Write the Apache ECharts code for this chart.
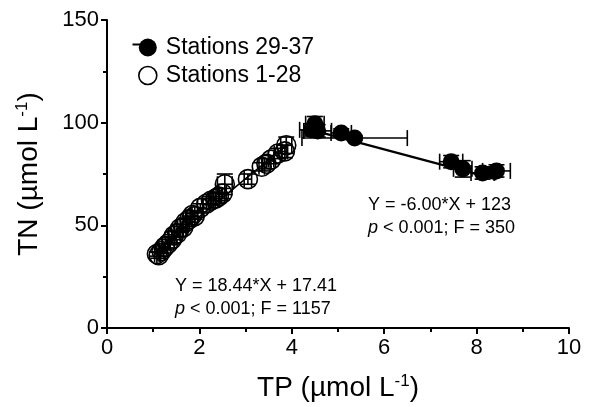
<!DOCTYPE html>
<html>
<head>
<meta charset="utf-8">
<script src="https://cdn.jsdelivr.net/npm/echarts@6/dist/echarts.min.js"></script>
<style>
html, body { margin: 0; padding: 0; background: #fff; }
#main { width: 593px; height: 407px; }
</style>
</head>
<body>
<div id="main"></div>
<script>
// Stations 1-28 (open circles)
var openX = [1.08, 1.12, 1.18, 1.25, 1.32, 1.40, 1.45, 1.52, 1.58, 1.65, 1.70, 1.78, 1.85, 1.90,
             2.02, 2.15, 2.25, 2.35, 2.42, 2.50, 2.55, 3.05, 3.35, 3.45, 3.55, 3.70, 3.85, 3.88];
var openY = [36.0, 35.5, 37.5, 39.5, 41.0, 43.0, 45.0, 46.0, 48.5, 49.0, 51.5, 53.0, 55.0, 54.5,
             58.5, 60.5, 62.0, 63.0, 64.0, 65.5, 70.0, 72.5, 78.5, 80.0, 82.0, 85.0, 86.0, 89.0];
var openXErr = [0.05, 0.04, 0.05, 0.06, 0.05, 0.06, 0.05, 0.06, 0.05, 0.06, 0.05, 0.06, 0.05, 0.06,
                0.06, 0.08, 0.06, 0.08, 0.06, 0.08, 0.16, 0.08, 0.06, 0.08, 0.06, 0.08, 0.06, 0.12];
var openYErr = [1.0, 1.5, 1.0, 1.5, 2.0, 1.5, 2.0, 1.5, 2.0, 1.5, 2.0, 1.5, 2.0, 1.5,
                2.0, 2.5, 2.0, 2.5, 2.0, 2.5, 5.0, 2.5, 2.0, 2.5, 2.0, 2.5, 3.0, 4.0];

// Stations 29-37 (filled circles)
var fillX = [4.42, 4.50, 4.56, 5.07, 5.36, 7.45, 7.70, 8.13, 8.43];
var fillY = [96.5, 99.5, 96.0, 95.0, 92.5, 81.0, 77.5, 75.5, 76.5];
var fillXErr = [0.25, 0.20, 0.30, 0.22, 1.14, 0.25, 0.20, 0.25, 0.30];
var fillYErr = [3.0, 3.5, 3.0, 2.0, 1.0, 3.0, 4.0, 3.0, 3.0];

// regression lines (end points)
var fitOpenX = [1.08, 3.90];
var fitOpenY = [37.3, 89.3];
var fitFillX = [4.42, 8.43];
var fitFillY = [96.5, 72.4];

var xTicks = [0, 2, 4, 6, 8, 10];
var yTicks = [0, 50, 100, 150];

var FONT = 'Liberation Sans, Arial, sans-serif';

function pairs(xs, ys) {
    var out = [];
    for (var i = 0; i < xs.length; i++) out.push([xs[i], ys[i]]);
    return out;
}
function errRows(xs, ys, xe, ye) {
    var out = [];
    for (var i = 0; i < xs.length; i++) out.push([xs[i], ys[i], xe[i], ye[i]]);
    return out;
}

// error bars with caps
function renderErr(params, api) {
    var x = api.value(0), y = api.value(1), xe = api.value(2), ye = api.value(3);
    var l = api.coord([x - xe, y]);
    var r = api.coord([x + xe, y]);
    var t = api.coord([x, y + ye]);
    var b = api.coord([x, y - ye]);
    var cap = 8;
    var st = { stroke: '#000', lineWidth: 1.6 };
    return {
        type: 'group',
        children: [
            { type: 'line', shape: { x1: l[0], y1: l[1], x2: r[0], y2: r[1] }, style: st },
            { type: 'line', shape: { x1: l[0], y1: l[1] - cap, x2: l[0], y2: l[1] + cap }, style: st },
            { type: 'line', shape: { x1: r[0], y1: r[1] - cap, x2: r[0], y2: r[1] + cap }, style: st },
            { type: 'line', shape: { x1: t[0], y1: t[1], x2: b[0], y2: b[1] }, style: st },
            { type: 'line', shape: { x1: t[0] - cap, y1: t[1], x2: t[0] + cap, y2: t[1] }, style: st },
            { type: 'line', shape: { x1: b[0] - cap, y1: b[1], x2: b[0] + cap, y2: b[1] }, style: st }
        ]
    };
}

var myChart = echarts.init(document.getElementById('main'));

var axisCommon = {
    axisLine: { show: true, lineStyle: { color: '#000', width: 2 } },
    axisTick: { show: true, length: 6, lineStyle: { color: '#000', width: 2 } },
    minorTick: { show: true, splitNumber: 2, length: 4, lineStyle: { color: '#000', width: 2 } },
    splitLine: { show: false }
};
var nameRich = {
    a: { fontSize: 28, fontFamily: FONT, color: '#000' },
    s: { fontSize: 17, fontFamily: FONT, color: '#000', padding: [0, 0, 13, 0] }
};

var option = {
    animation: false,
    backgroundColor: '#fff',
    grid: { left: 107, right: 24, top: 20, bottom: 79 },
    legend: {
        orient: 'vertical',
        left: 133,
        top: 31,
        itemWidth: 18,
        itemHeight: 18,
        itemGap: 5,
        textStyle: { color: '#000', fontSize: 23, fontFamily: FONT, padding: [0, 0, 0, 4] },
        data: [
            { name: 'Stations 29-37', icon: 'circle', itemStyle: { color: '#000', borderWidth: 0 } },
            { name: 'Stations 1-28', icon: 'circle', itemStyle: { color: '#fff', borderColor: '#000', borderWidth: 1.6 } }
        ]
    },
    xAxis: Object.assign({}, axisCommon, {
        type: 'value', min: xTicks[0], max: xTicks[xTicks.length - 1], interval: 2,
        name: '{a|TP (µmol L}{s|-1}{a|)}',
        nameLocation: 'middle',
        nameGap: 45,
        nameTextStyle: { rich: nameRich },
        axisLabel: { color: '#000', fontSize: 22, fontFamily: FONT, margin: 9 }
    }),
    yAxis: Object.assign({}, axisCommon, {
        type: 'value', min: yTicks[0], max: yTicks[yTicks.length - 1], interval: 50,
        name: '{a|TN (µmol L}{s|-1}{a|)}',
        nameLocation: 'middle',
        nameGap: 63,
        nameTextStyle: { rich: nameRich },
        axisLabel: { color: '#000', fontSize: 22, fontFamily: FONT, margin: 8 }
    }),
    series: [
        {
            name: 'fitOpen', type: 'line', data: pairs(fitOpenX, fitOpenY),
            symbol: 'none', lineStyle: { color: '#000', width: 1.6 }, z: 1
        },
        {
            name: 'fitFill', type: 'line', data: pairs(fitFillX, fitFillY),
            symbol: 'none', lineStyle: { color: '#000', width: 2.2 }, z: 1
        },
        {
            name: 'errOpen', type: 'custom', renderItem: renderErr,
            data: errRows(openX, openY, openXErr, openYErr), z: 2
        },
        {
            name: 'errFill', type: 'custom', renderItem: renderErr,
            data: errRows(fillX, fillY, fillXErr, fillYErr), z: 2
        },
        {
            name: 'Stations 1-28', type: 'scatter', data: pairs(openX, openY),
            symbol: 'circle', symbolSize: 19,
            itemStyle: { color: 'rgba(255,255,255,0)', borderColor: '#000', borderWidth: 1.6, opacity: 1 },
            z: 3
        },
        {
            name: 'Stations 29-37', type: 'scatter', data: pairs(fillX, fillY),
            symbol: 'circle', symbolSize: 17,
            itemStyle: { color: '#000', opacity: 1 },
            z: 4
        }
    ],
    graphic: [
        { type: 'line', left: 130, top: 42, shape: { x1: 0, y1: 0, x2: 23, y2: 0 }, style: { stroke: '#000', lineWidth: 2 }, z: 10 },
        {
            type: 'text', left: 368, top: 196,
            style: { text: 'Y = -6.00*X + 123', fontSize: 18, fontFamily: FONT, fill: '#000' }
        },
        {
            type: 'text', left: 368, top: 219,
            style: {
                text: '{i|p} < 0.001; F = 350', fontSize: 18, fontFamily: FONT, fill: '#000',
                rich: { i: { fontStyle: 'italic', fontSize: 18, fontFamily: FONT } }
            }
        },
        {
            type: 'text', left: 175, top: 277,
            style: { text: 'Y = 18.44*X + 17.41', fontSize: 18, fontFamily: FONT, fill: '#000' }
        },
        {
            type: 'text', left: 175, top: 300,
            style: {
                text: '{i|p} < 0.001; F = 1157', fontSize: 18, fontFamily: FONT, fill: '#000',
                rich: { i: { fontStyle: 'italic', fontSize: 18, fontFamily: FONT } }
            }
        }
    ]
};

myChart.setOption(option);
</script>
</body>
</html>
